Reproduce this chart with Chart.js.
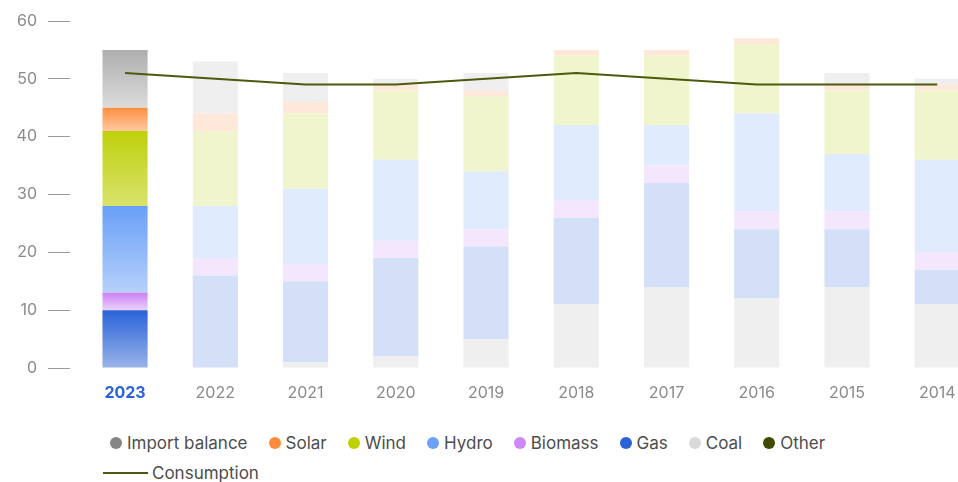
<!DOCTYPE html>
<html>
<head>
<meta charset="utf-8">
<script src="https://cdn.jsdelivr.net/npm/chart.js@4"></script>
<style>
  html, body { margin: 0; padding: 0; background: #fff; }
  body { width: 958px; height: 482px; position: relative; overflow: hidden; font-family: Inter, "Noto Sans", sans-serif; }
  #wrap { position: absolute; left: 0; top: 0; width: 958px; height: 420px; }
  #legend { position: absolute; left: 103px; top: 428px; width: 780px; display: flex; flex-wrap: wrap; column-gap: 14px; }
  .item { display: flex; align-items: center; height: 30px; font-size: 17px; color: #4d4d4d; white-space: nowrap; }
  .dot { width: 12px; height: 12px; border-radius: 50%; margin-left: 7px; margin-right: 5px; }
  .line { width: 45px; height: 2px; margin-right: 4px; }
  .item.break { flex-basis: 100%; }
</style>
</head>
<body>
<div id="wrap"><canvas id="chart"></canvas></div>
<div id="legend"></div>
<script>
// data (TWh)
const YEARS = ["2023", "2022", "2021", "2020", "2019", "2018", "2017", "2016", "2015", "2014"];
const OTHER   = [0, 0, 0, 0, 0, 0, 0, 0, 0, 0];
const COAL    = [0, 0, 1, 2, 5, 11, 14, 12, 14, 11];
const GAS     = [10, 16, 14, 17, 16, 15, 18, 12, 10, 6];
const BIOMASS = [3, 3, 3, 3, 3, 3, 3, 3, 3, 3];
const HYDRO   = [15, 9, 13, 14, 10, 13, 7, 17, 10, 16];
const WIND    = [13, 13, 13, 12, 13, 12, 12, 12, 11, 12];
const SOLAR   = [4, 3, 2, 1, 1, 1, 1, 1, 1, 1];
const IMPORT  = [10, 9, 5, 1, 3, 0, 0, 0, 2, 1];
const CONSUMPTION = [51, 50, 49, 49, 50, 51, 50, 49, 49, 49];
const Y_TICKS = [0, 10, 20, 30, 40, 50, 60];

const HIGHLIGHT = 0; // 2023 is drawn in full colour
const FONT = "Inter, 'Noto Sans', sans-serif";

/* stack order, bottom to top */
const STACK = [
  { label: "Other",          data: OTHER,   dot: "#3d4a00", top: "#3d4a00", bottom: "#8a9450", pale: "#e2e4d6" },
  { label: "Coal",           data: COAL,    dot: "#d9d9d9", top: "#c8c8c8", bottom: "#e6e6e6", pale: "#efefef" },
  { label: "Gas",            data: GAS,     dot: "#2a62d8", top: "#2962d9", bottom: "#9ab4e8", pale: "#d4e0f7" },
  { label: "Biomass",        data: BIOMASS, dot: "#cf86f7", top: "#cc80f5", bottom: "#ead2fb", pale: "#f4e6fd" },
  { label: "Hydro",          data: HYDRO,   dot: "#6ba2f8", top: "#69a0f7", bottom: "#b6d0fb", pale: "#e0ebfd" },
  { label: "Wind",           data: WIND,    dot: "#bfd000", top: "#bfd00a", bottom: "#d9e36e", pale: "#f0f5cd" },
  { label: "Solar",          data: SOLAR,   dot: "#ff8c3c", top: "#ff8f40", bottom: "#ffc8a2", pale: "#fee8da" },
  { label: "Import balance", data: IMPORT,  dot: "#858585", top: "#aeaeae", bottom: "#dcdcdc", pale: "#efefef" }
];
const LINE_COLOR = "#4b5a0c";

function stackBase(si, i){
  let s = 0;
  for (let k = 0; k < si; k++) s += STACK[k].data[i];
  return s;
}

function barColor(si){
  const st = STACK[si];
  return ctx => {
    if (ctx.type !== "data") return st.top;
    const i = ctx.dataIndex;
    if (i !== HIGHLIGHT) return st.pale;
    const y = ctx.chart.scales.y;
    if (!y) return st.top;
    const start = stackBase(si, i), end = start + st.data[i];
    const y0 = y.getPixelForValue(end), y1 = y.getPixelForValue(start);
    if (!isFinite(y0) || !isFinite(y1) || y0 === y1) return st.top;
    const g = ctx.chart.ctx.createLinearGradient(0, y0, 0, y1);
    g.addColorStop(0, st.top);
    g.addColorStop(1, st.bottom);
    return g;
  };
}

const datasets = STACK.map((st, si) => ({
  type: "bar",
  label: st.label,
  data: st.data.map((v, i) => ({ x: i, y: v })),
  backgroundColor: barColor(si),
  borderWidth: 0,
  categoryPercentage: 0.5,
  barPercentage: 1,
  order: 1
}));
datasets.push({
  type: "line",
  label: "Consumption",
  data: CONSUMPTION.map((v, i) => ({ x: i, y: v })),
  borderColor: LINE_COLOR,
  borderWidth: 2,
  pointRadius: 0,
  tension: 0,
  fill: false,
  stack: "consumption",
  order: 0
});

const chart = new Chart(document.getElementById("chart"), {
  type: "bar",
  data: { datasets },
  options: {
    responsive: true,
    maintainAspectRatio: false,
    animation: false,
    layout: { padding: { top: 21, left: 0, right: 0, bottom: 0 }, autoPadding: false },
    plugins: { legend: { display: false }, tooltip: { enabled: false } },
    scales: {
      x: {
        type: "linear",
        stacked: true,
        offset: false,
        min: -0.61,
        max: 9.23,
        grid: { display: false, drawTicks: false, offset: false },
        border: { display: false },
        afterBuildTicks: s => { s.ticks = YEARS.map((_, i) => ({ value: i })); },
        afterFit: s => { s.height = 52; s.paddingLeft = 0; s.paddingRight = 0; },
        ticks: {
          autoSkip: false,
          maxRotation: 0,
          padding: 16,
          callback: v => YEARS[v],
          color: c => c.index === HIGHLIGHT ? "#2a63d8" : "#8a8a8a",
          font: c => ({ family: FONT, size: 16, weight: c.index === HIGHLIGHT ? "700" : "400" })
        }
      },
      y: {
        stacked: true,
        min: 0,
        max: 60,
        afterBuildTicks: s => { s.ticks = Y_TICKS.map(v => ({ value: v })); },
        afterFit: s => { s.width = 70; },
        grid: { drawOnChartArea: false, drawTicks: true, tickLength: 22, tickColor: "#9a9a9a", tickWidth: 1 },
        border: { display: false },
        ticks: { padding: 11, color: "#8a8a8a", font: { family: FONT, size: 16 } }
      }
    }
  }
});

/* html legend, top of stack first, then the line */
function buildLegend(){
  const el = document.getElementById("legend");
  const items = STACK.slice(1).reverse().concat([STACK[0]]);
  items.forEach(st => {
    const d = document.createElement("div");
    d.className = "item";
    d.innerHTML = `<span class="dot" style="background:${st.dot}"></span>${st.label}`;
    el.appendChild(d);
  });
  const br = document.createElement("div");
  br.className = "item break";
  br.style.height = "0";
  el.appendChild(br);
  const l = document.createElement("div");
  l.className = "item";
  l.innerHTML = `<span class="line" style="background:${LINE_COLOR}"></span>Consumption`;
  el.appendChild(l);
}
buildLegend();
</script>
</body>
</html>
